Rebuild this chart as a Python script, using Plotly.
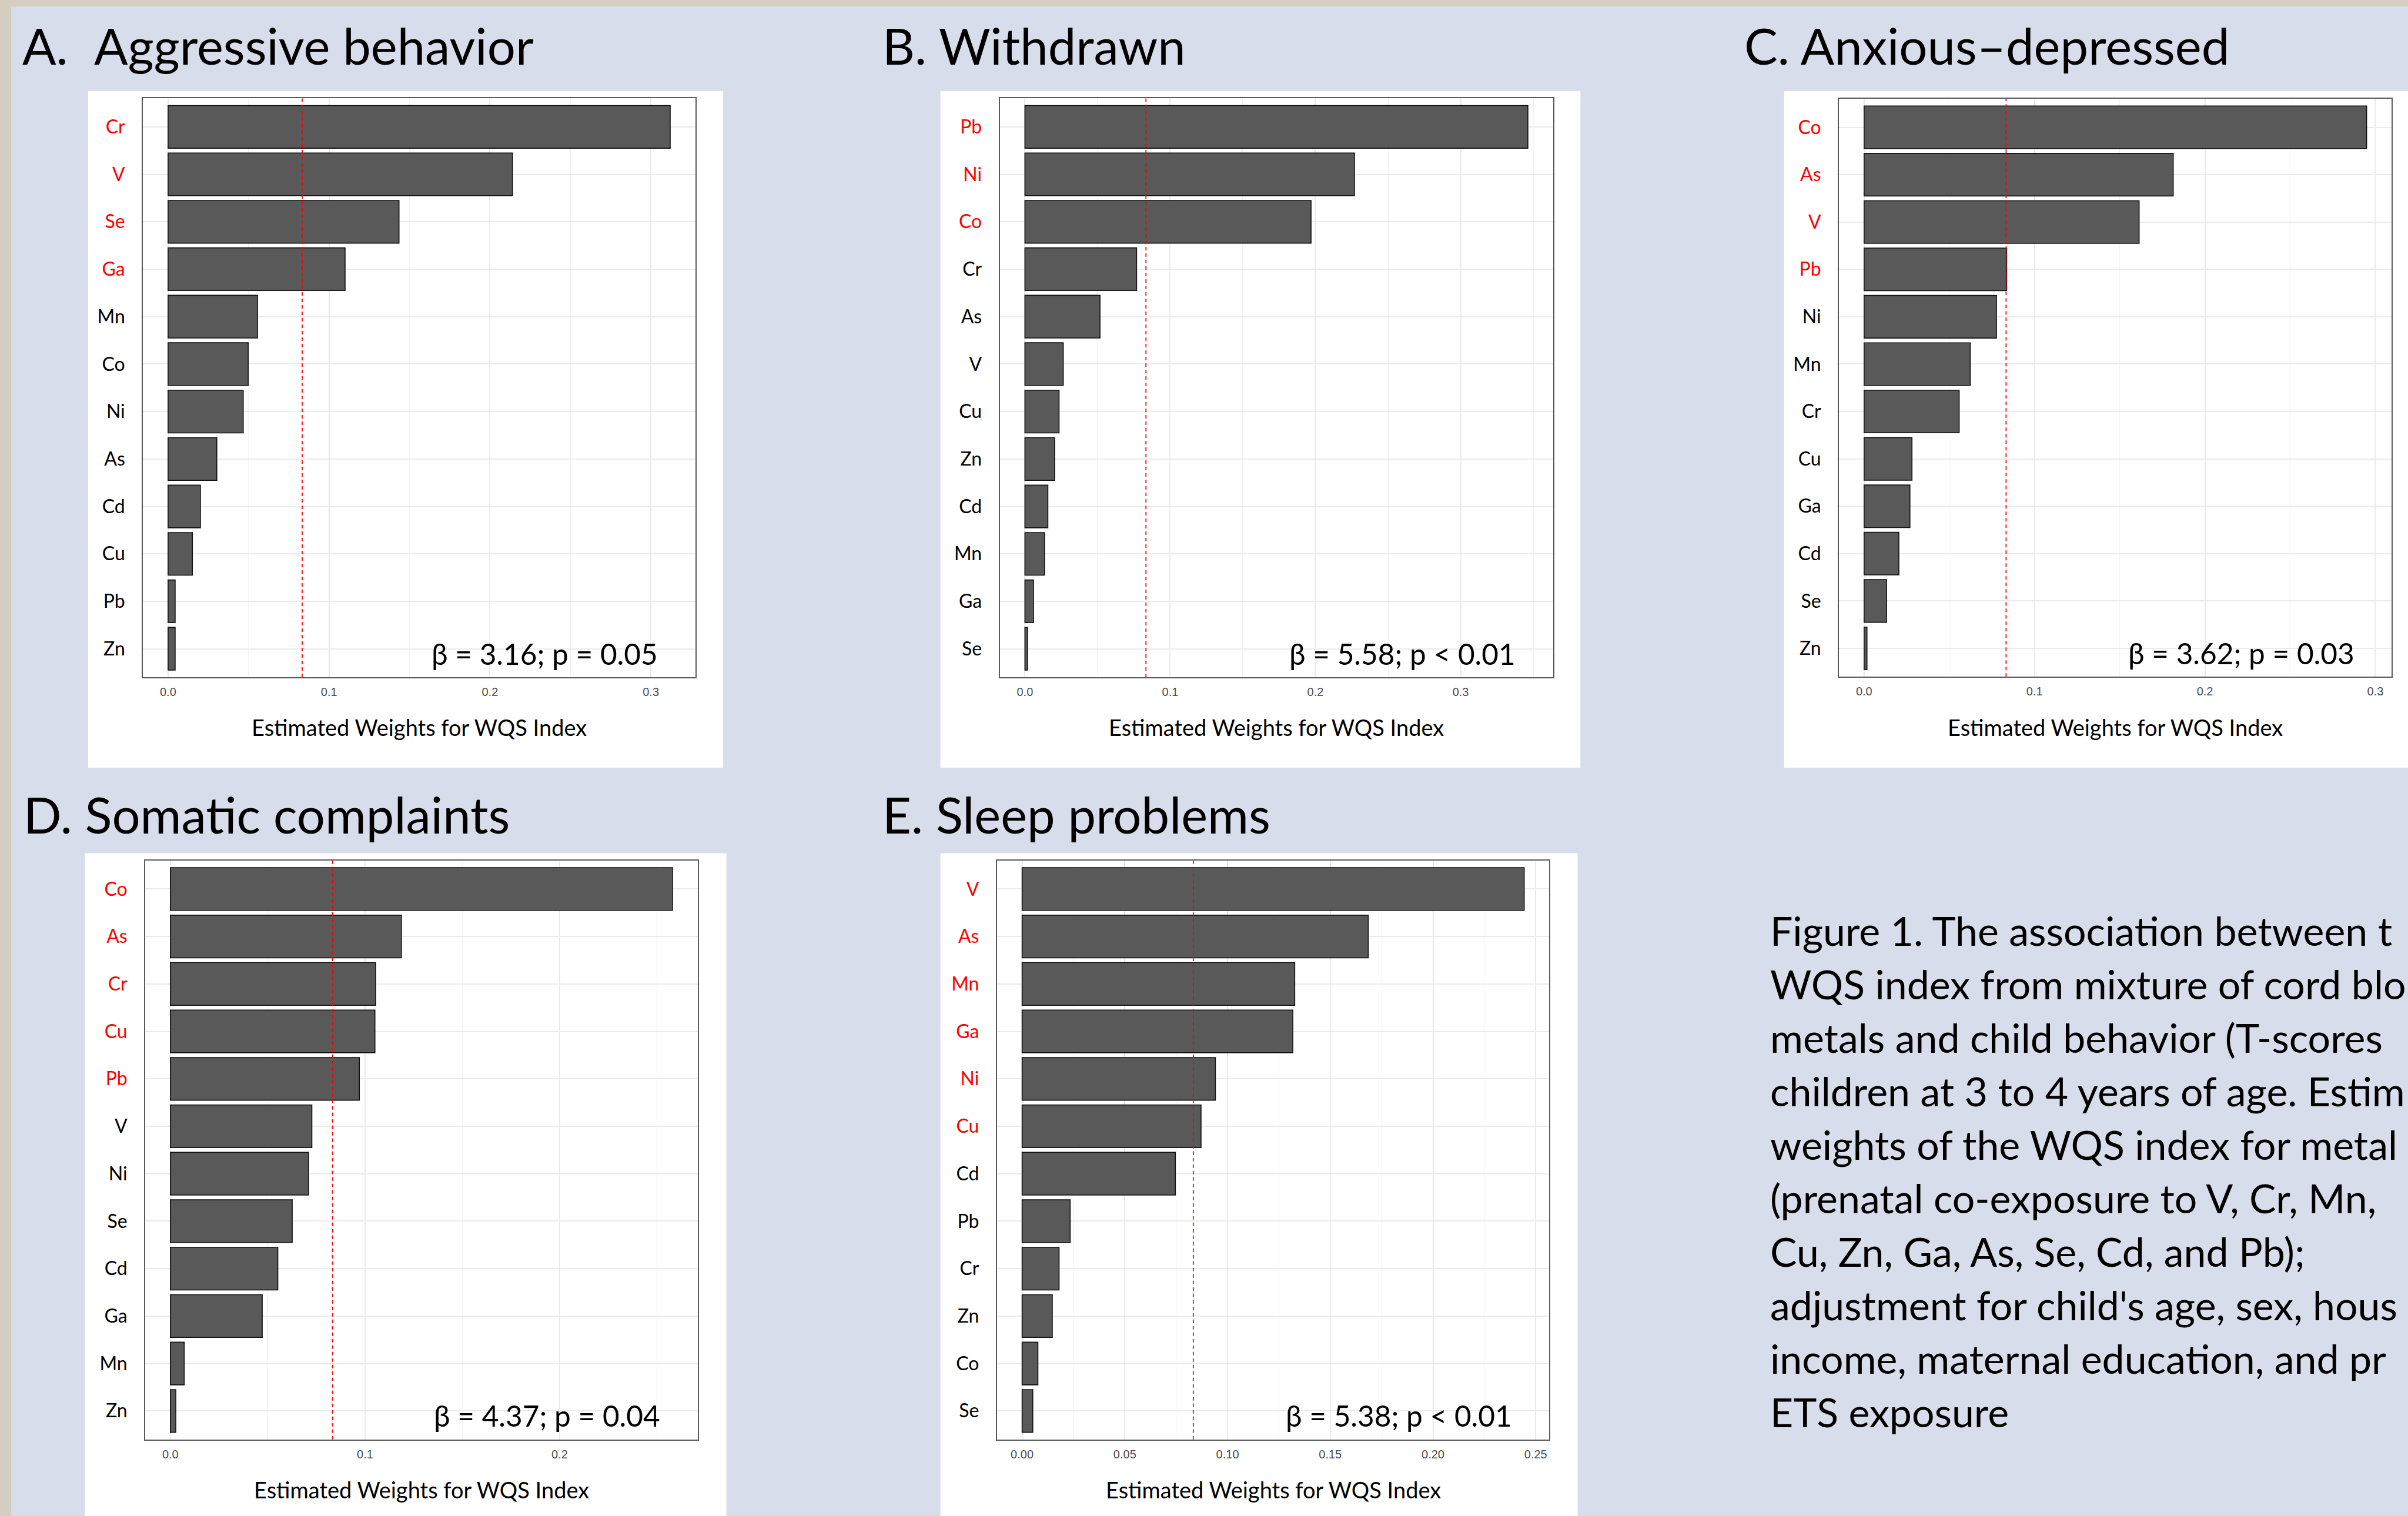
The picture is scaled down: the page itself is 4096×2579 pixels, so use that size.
import plotly.graph_objects as go

# ---------------- data ----------------
THRESHOLD = 1 / 12  # equal-weight cut-off shown as red dashed line

a_metals = ["Cr", "V", "Se", "Ga", "Mn", "Co", "Ni", "As", "Cd", "Cu", "Pb", "Zn"]
a_weights = [0.312, 0.214, 0.1435, 0.110, 0.0556, 0.0498, 0.0467, 0.0303, 0.0201, 0.0151, 0.0044, 0.0044]
a_red = ["Cr", "V", "Se", "Ga"]
a_beta = "β = 3.16; p = 0.05"

b_metals = ["Pb", "Ni", "Co", "Cr", "As", "V", "Cu", "Zn", "Cd", "Mn", "Ga", "Se"]
b_weights = [0.3463, 0.2269, 0.197, 0.0769, 0.0517, 0.0264, 0.0235, 0.0205, 0.0158, 0.0135, 0.0059, 0.0018]
b_red = ["Pb", "Ni", "Co"]
b_beta = "β = 5.58; p < 0.01"

c_metals = ["Co", "As", "V", "Pb", "Ni", "Mn", "Cr", "Cu", "Ga", "Cd", "Se", "Zn"]
c_weights = [0.2949, 0.1814, 0.1614, 0.0837, 0.0777, 0.0623, 0.0558, 0.0281, 0.0269, 0.0204, 0.0132, 0.0017]
c_red = ["Co", "As", "V", "Pb"]
c_beta = "β = 3.62; p = 0.03"

d_metals = ["Co", "As", "Cr", "Cu", "Pb", "V", "Ni", "Se", "Cd", "Ga", "Mn", "Zn"]
d_weights = [0.258, 0.1187, 0.1055, 0.1051, 0.0971, 0.0727, 0.0710, 0.0626, 0.0552, 0.0472, 0.0071, 0.0028]
d_red = ["Co", "As", "Cr", "Cu", "Pb"]
d_beta = "β = 4.37; p = 0.04"

e_metals = ["V", "As", "Mn", "Ga", "Ni", "Cu", "Cd", "Pb", "Cr", "Zn", "Co", "Se"]
e_weights = [0.2444, 0.1685, 0.1327, 0.1318, 0.0941, 0.0871, 0.0746, 0.0234, 0.0180, 0.0147, 0.0077, 0.0052]
e_red = ["V", "As", "Mn", "Ga", "Ni", "Cu"]
e_beta = "β = 5.38; p < 0.01"

titles = [
    ("A.", "Aggressive behavior"),
    ("B. Withdrawn", None),
    ("C. Anxious–depressed", None),
    ("D. Somatic complaints", None),
    ("E. Sleep problems", None),
]
x_title = "Estimated Weights for WQS Index"

# caption as visible in the reference (cut by the right edge of the poster)
caption_lines = [
    "Figure 1. The association between t",
    "WQS index from mixture of cord blo",
    "metals and child behavior (T-scores",
    "children at 3 to 4 years of age. Estim",
    "weights of the WQS index for metal",
    "(prenatal co-exposure to V, Cr, Mn,",
    "Cu, Zn, Ga, As, Se, Cd, and Pb);",
    "adjustment for child's age, sex, hous",
    "income, maternal education, and pr",
    "ETS exposure",
]

# ---------------- layout helpers (reference pixel frame) ----------------
W_REF, H_REF = 5188, 3266
FIG_W, FIG_H = 4096, 2579


def px(x):
    return x / W_REF


def py(y):
    return 1 - y / H_REF


BG = "#D7DDEA"
BEIGE = "#D6CEC0"
FONT = "Lato"

panels = [
    dict(metals=a_metals, w=a_weights, red=a_red, beta=a_beta, frame=(308, 212, 1498, 1459),
         box=(190, 196, 1558, 1654), dtick=0.1, fmt=".1f", title_y=97.5),
    dict(metals=b_metals, w=b_weights, red=b_red, beta=b_beta, frame=(2154, 212, 3346, 1459),
         box=(2026, 196, 3405, 1654), dtick=0.1, fmt=".1f", title_y=97.5),
    dict(metals=c_metals, w=c_weights, red=c_red, beta=c_beta, frame=(3962, 213, 5153, 1458),
         box=(3844, 196, 5260, 1654), dtick=0.1, fmt=".1f", title_y=97.5),
    dict(metals=d_metals, w=d_weights, red=d_red, beta=d_beta, frame=(313, 1854, 1503, 3101),
         box=(183, 1838, 1565, 3300), dtick=0.1, fmt=".1f", title_y=1753.5),
    dict(metals=e_metals, w=e_weights, red=e_red, beta=e_beta, frame=(2148, 1854, 3338, 3101),
         box=(2026, 1838, 3399, 3300), dtick=0.05, fmt=".2f", title_y=1753.5),
]
title_x = [45.7, 1899, 3755, 48, 1899]

fig = go.Figure()
shapes = []
annotations = []

# page decoration
shapes.append(dict(type="rect", xref="paper", yref="paper", x0=0, x1=1.01, y0=py(14), y1=1.01,
                   fillcolor=BEIGE, line=dict(width=0), layer="below"))
shapes.append(dict(type="rect", xref="paper", yref="paper", x0=-0.01, x1=px(24), y0=-0.01, y1=1.01,
                   fillcolor=BEIGE, line=dict(width=0), layer="below"))

for i, p in enumerate(panels):
    n = i + 1
    xa = "x" if n == 1 else f"x{n}"
    ya = "y" if n == 1 else f"y{n}"
    xl, yt, xr, yb = p["frame"]
    bx0, by0, bx1, by1 = p["box"]
    shapes.append(dict(type="rect", xref="paper", yref="paper", x0=px(bx0), x1=px(bx1),
                       y0=py(by1), y1=py(by0), fillcolor="white", line=dict(width=0), layer="below"))

    fig.add_trace(go.Bar(
        x=p["w"], y=p["metals"], orientation="h", xaxis=xa, yaxis=ya,
        marker=dict(color="#595959", line=dict(color="#111111", width=1.6)),
        showlegend=False, hoverinfo="x+y",
    ))

    wmax = max(p["w"])
    ticktext = [f'<span style="color:#FF0000">{m}</span>' if m in p["red"] else m for m in p["metals"]]
    axis_x = dict(
        domain=[px(xl), px(xr)], anchor=ya, range=[-0.05 * wmax, 1.05 * wmax],
        dtick=p["dtick"], tick0=0, tickformat=p["fmt"], showgrid=True, gridcolor="#EBEBEB", gridwidth=2,
        minor=dict(dtick=p["dtick"] / 2, showgrid=True, gridcolor="#F2F2F2", gridwidth=1),
        zeroline=False, showline=True, mirror=True, linecolor="#5A5A5A", linewidth=2,
        ticks="", tickfont=dict(family="Liberation Sans", size=20, color="#4D4D4D"),
        ticklabelstandoff=6, fixedrange=True,
    )
    axis_y = dict(
        domain=[py(yb), py(yt)], anchor=xa, type="category",
        categoryorder="array", categoryarray=p["metals"],
        range=[len(p["metals"]) - 0.4, -0.6],
        tickmode="array", tickvals=p["metals"], ticktext=ticktext,
        showgrid=True, gridcolor="#EBEBEB", gridwidth=2, zeroline=False,
        showline=True, mirror=True, linecolor="#5A5A5A", linewidth=2,
        ticks="", tickfont=dict(family=FONT, size=32, color="black"),
        ticklabelstandoff=22, fixedrange=True,
    )
    fig.update_layout({("xaxis" if n == 1 else f"xaxis{n}"): axis_x,
                       ("yaxis" if n == 1 else f"yaxis{n}"): axis_y})

    # threshold line
    shapes.append(dict(type="line", xref=xa, yref=f"{ya} domain", x0=THRESHOLD, x1=THRESHOLD,
                       y0=0, y1=1, line=dict(color="#FF0000", width=1.8, dash="6px,5px"), layer="above"))

    # beta annotation
    annotations.append(dict(xref="paper", yref="paper", x=px(xr - 78), y=py(yb - 51),
                            text=p["beta"], showarrow=False, xanchor="right", yanchor="middle",
                            font=dict(family=FONT, size=49.5, color="black")))
    # x title
    annotations.append(dict(xref="paper", yref="paper", x=px((xl + xr) / 2), y=py(yb + 108),
                            text=x_title, showarrow=False, xanchor="center", yanchor="middle",
                            font=dict(family=FONT, size=38, color="black")))

    # panel title
    t1, t2 = titles[i]
    annotations.append(dict(xref="paper", yref="paper", x=px(title_x[i]), y=py(p["title_y"]),
                            text=t1, showarrow=False, xanchor="left", yanchor="middle",
                            font=dict(family=FONT, size=85, color="black")))
    if t2:
        annotations.append(dict(xref="paper", yref="paper", x=px(200), y=py(p["title_y"]),
                                text=t2, showarrow=False, xanchor="left", yanchor="middle",
                                font=dict(family=FONT, size=85, color="black")))

# caption
for k, line in enumerate(caption_lines):
    annotations.append(dict(xref="paper", yref="paper", x=px(3811), y=py(2034 + 115.3 * k - 30),
                            text=line, showarrow=False, xanchor="left", yanchor="middle",
                            font=dict(family=FONT, size=68, color="black")))

fig.update_layout(
    width=FIG_W, height=FIG_H, autosize=False,
    margin=dict(l=0, r=0, t=0, b=0, pad=0),
    paper_bgcolor=BG, plot_bgcolor="white",
    bargap=0.1, shapes=shapes, annotations=annotations,
    showlegend=False,
)

fig.write_html("out.html", config={"displayModeBar": False},
               post_script="document.body.style.margin='0px';")
